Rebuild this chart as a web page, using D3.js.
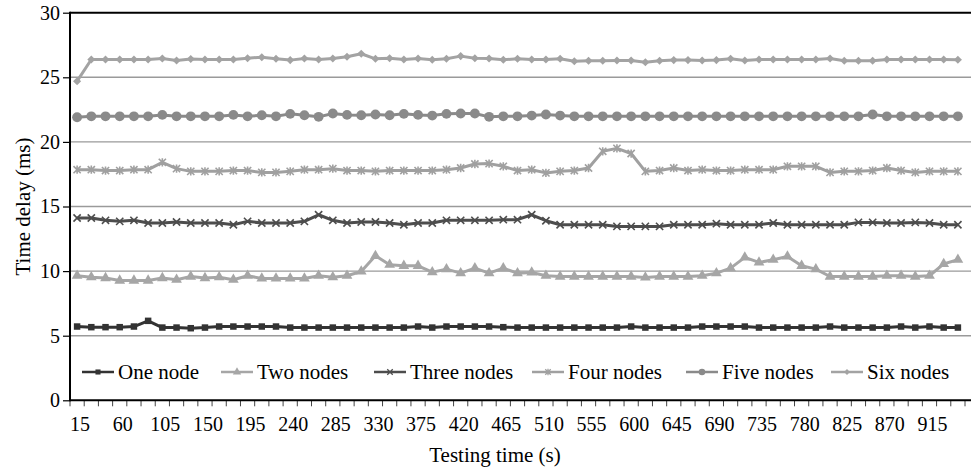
<!DOCTYPE html>
<html>
<head>
<meta charset="utf-8">
<script src="https://cdn.jsdelivr.net/npm/d3@7"></script>
<style>
  body { margin: 0; background: #fff; }
</style>
</head>
<body>
<svg id="delayChart" width="971" height="471"></svg>
<script>
// Testing time categories (s)
var times = [15, 30, 45, 60, 75, 90, 105, 120, 135, 150, 165, 180, 195, 210, 225, 240,
  255, 270, 285, 300, 315, 330, 345, 360, 375, 390, 405, 420, 435, 450, 465, 480,
  495, 510, 525, 540, 555, 570, 585, 600, 615, 630, 645, 660, 675, 690, 705, 720,
  735, 750, 765, 780, 795, 810, 825, 840, 855, 870, 885, 900, 915, 930, 945];
var xTickLabels = [15, 60, 105, 150, 195, 240, 285, 330, 375, 420, 465, 510, 555, 600,
  645, 690, 735, 780, 825, 870, 915];
var yTicks = [0, 5, 10, 15, 20, 25, 30];
var seriesNames = ["One node", "Two nodes", "Three nodes", "Four nodes", "Five nodes", "Six nodes"];

// Time delay (ms)
var oneNode = [5.71, 5.66, 5.66, 5.66, 5.71, 6.15, 5.63, 5.63, 5.58, 5.63,
  5.71, 5.71, 5.71, 5.71, 5.71, 5.63, 5.63, 5.63, 5.63, 5.63,
  5.63, 5.63, 5.63, 5.63, 5.71, 5.63, 5.71, 5.71, 5.71, 5.71,
  5.66, 5.63, 5.63, 5.63, 5.63, 5.63, 5.63, 5.63, 5.63, 5.71,
  5.63, 5.63, 5.63, 5.63, 5.71, 5.71, 5.71, 5.71, 5.63, 5.63,
  5.63, 5.63, 5.63, 5.71, 5.63, 5.63, 5.63, 5.63, 5.71, 5.63,
  5.71, 5.63, 5.63];
var twoNodes = [9.64, 9.53, 9.46, 9.27, 9.27, 9.27, 9.46, 9.33, 9.58, 9.46,
  9.53, 9.33, 9.64, 9.43, 9.43, 9.43, 9.43, 9.64, 9.53, 9.64,
  9.97, 11.18, 10.49, 10.41, 10.41, 9.92, 10.15, 9.84, 10.23, 9.84,
  10.23, 9.84, 9.89, 9.64, 9.58, 9.58, 9.58, 9.58, 9.58, 9.58,
  9.51, 9.58, 9.58, 9.58, 9.64, 9.84, 10.23, 11.06, 10.67, 10.88,
  11.13, 10.41, 10.15, 9.58, 9.58, 9.58, 9.58, 9.64, 9.64, 9.58,
  9.64, 10.56, 10.88];
var threeNodes = [14.11, 14.11, 13.93, 13.85, 13.93, 13.72, 13.72, 13.80, 13.72, 13.72,
  13.72, 13.59, 13.85, 13.72, 13.72, 13.72, 13.85, 14.36, 13.93, 13.72,
  13.80, 13.80, 13.72, 13.59, 13.72, 13.72, 13.93, 13.93, 13.93, 13.93,
  13.98, 13.98, 14.36, 13.90, 13.59, 13.59, 13.59, 13.59, 13.46, 13.46,
  13.46, 13.46, 13.59, 13.59, 13.59, 13.67, 13.59, 13.59, 13.59, 13.72,
  13.59, 13.59, 13.59, 13.59, 13.59, 13.77, 13.77, 13.72, 13.72, 13.77,
  13.72, 13.59, 13.59];
var fourNodes = [17.85, 17.85, 17.78, 17.78, 17.85, 17.85, 18.42, 17.93, 17.72, 17.72,
  17.72, 17.78, 17.78, 17.64, 17.64, 17.72, 17.85, 17.85, 17.93, 17.78,
  17.78, 17.72, 17.78, 17.78, 17.78, 17.78, 17.85, 17.98, 18.29, 18.32,
  18.11, 17.78, 17.85, 17.60, 17.72, 17.78, 17.98, 19.27, 19.50, 19.10,
  17.72, 17.78, 17.98, 17.78, 17.85, 17.78, 17.78, 17.85, 17.85, 17.85,
  18.11, 18.11, 18.11, 17.64, 17.72, 17.72, 17.78, 17.98, 17.78, 17.64,
  17.72, 17.72, 17.72];
var fiveNodes = [21.91, 21.98, 21.98, 21.98, 21.98, 21.98, 22.09, 21.98, 21.98, 21.98,
  21.98, 22.09, 21.98, 22.06, 21.98, 22.17, 22.06, 21.94, 22.20, 22.09,
  22.06, 22.12, 22.06, 22.17, 22.09, 22.04, 22.17, 22.20, 22.20, 21.94,
  21.98, 21.98, 22.04, 22.12, 22.04, 21.98, 21.98, 21.98, 21.98, 21.98,
  21.98, 21.98, 21.98, 21.98, 21.98, 21.98, 21.98, 21.98, 21.98, 21.98,
  21.98, 21.98, 21.98, 21.98, 21.98, 21.98, 22.12, 21.98, 21.98, 21.98,
  21.98, 21.98, 21.98];
var sixNodes = [24.70, 26.38, 26.38, 26.38, 26.38, 26.38, 26.46, 26.30, 26.41, 26.38,
  26.38, 26.38, 26.48, 26.56, 26.43, 26.33, 26.46, 26.38, 26.46, 26.59,
  26.82, 26.43, 26.48, 26.38, 26.46, 26.36, 26.43, 26.64, 26.48, 26.46,
  26.36, 26.43, 26.38, 26.38, 26.43, 26.25, 26.28, 26.28, 26.30, 26.30,
  26.17, 26.28, 26.33, 26.33, 26.30, 26.33, 26.43, 26.30, 26.38, 26.38,
  26.38, 26.38, 26.38, 26.46, 26.28, 26.28, 26.28, 26.38, 26.38, 26.38,
  26.38, 26.38, 26.36];

var svg, xScale, yScale;
var serif = "'Liberation Serif', 'Times New Roman', Times, 'DejaVu Serif', serif";
// where each legend label starts
var legendTextX = [118, 257, 410, 568, 722, 867];

// marker shapes that look like the office ones
var symbolTimes = {
  draw: function (ctx, size) {
    var r = Math.sqrt(size) / 2;
    ctx.moveTo(-r, -r); ctx.lineTo(r, r);
    ctx.moveTo(-r, r); ctx.lineTo(r, -r);
  }
};
var symbolStar = {
  draw: function (ctx, size) {
    var r = Math.sqrt(size) / 2;
    ctx.moveTo(-r, -r); ctx.lineTo(r, r);
    ctx.moveTo(-r, r); ctx.lineTo(r, -r);
    ctx.moveTo(0, -r * 1.15); ctx.lineTo(0, r * 1.15);
  }
};
var symbolRhomb = {
  draw: function (ctx, size) {
    var r = Math.sqrt(size) * 0.62;
    ctx.moveTo(0, -r); ctx.lineTo(r, 0); ctx.lineTo(0, r); ctx.lineTo(-r, 0);
    ctx.closePath();
  }
};

document.addEventListener("DOMContentLoaded", function () {
  svg = d3.select("#delayChart").attr("font-family", serif);
  drawChart();
});

function drawChart() {
  var left = 70, right = 965, gridRight = 971;

  xScale = d3.scaleBand().domain(times).range([left, right]).padding(0);
  yScale = d3.scaleLinear().domain([0, 30]).range([400.3, 12.7]);

  var series = [
    { name: seriesNames[0], values: oneNode, color: "#333333", type: d3.symbolSquare, size: 42, legendSize: 26, fill: true },
    { name: seriesNames[1], values: twoNodes, color: "#a6a6a6", type: d3.symbolTriangle, size: 50, legendSize: 30, fill: true },
    { name: seriesNames[2], values: threeNodes, color: "#4d4d4d", type: symbolTimes, size: 52, legendSize: 30, fill: false },
    { name: seriesNames[3], values: fourNodes, color: "#a0a0a0", type: symbolStar, size: 52, legendSize: 30, fill: false },
    { name: seriesNames[4], values: fiveNodes, color: "#8a8a8a", type: d3.symbolCircle, size: 76, legendSize: 34, fill: true },
    { name: seriesNames[5], values: sixNodes, color: "#a3a3a3", type: symbolRhomb, size: 42, legendSize: 22, fill: true }
  ];

  // gridlines
  svg.append("g").selectAll("line")
    .data(yTicks.filter(d => d > 0 && d < 30)).enter()
    .append("line")
    .attr("x1", left).attr("x2", gridRight)
    .attr("y1", d => yScale(d)).attr("y2", d => yScale(d))
    .attr("stroke", "#9a9a9a")
    .attr("stroke-width", 1.4);

  // top border
  svg.append("line")
    .attr("x1", left).attr("x2", gridRight)
    .attr("y1", yScale(30)).attr("y2", yScale(30))
    .attr("stroke", "#000").attr("stroke-width", 2);

  // y axis
  var yAxis = svg.append("g")
    .attr("transform", "translate(" + left + ",0)")
    .call(d3.axisLeft(yScale).tickValues(yTicks).tickSize(7).tickPadding(3));
  yAxis.select(".domain").remove();
  yAxis.attr("font-family", serif).attr("font-size", 20);
  yAxis.selectAll("line").attr("stroke", "#000").attr("stroke-width", 1.2);
  yAxis.selectAll("text").attr("font-family", serif).attr("fill", "#000");

  // x axis labels
  var xAxis = svg.append("g")
    .attr("transform", "translate(0," + yScale(0) + ")")
    .call(d3.axisBottom(xScale).tickValues(xTickLabels).tickSize(0).tickPadding(17));
  xAxis.select(".domain").remove();
  xAxis.attr("font-family", serif).attr("font-size", 20);
  xAxis.selectAll("text").attr("font-family", serif).attr("fill", "#000").attr("dx", 3);

  // x ticks on the category borders
  var borders = times.map(t => xScale(t)).concat([right]);
  svg.append("g").selectAll("line")
    .data(borders).enter()
    .append("line")
    .attr("x1", d => d).attr("x2", d => d)
    .attr("y1", yScale(0)).attr("y2", yScale(0) + 6)
    .attr("stroke", "#444").attr("stroke-width", 1);

  // axis lines
  svg.append("line")
    .attr("x1", left).attr("x2", gridRight)
    .attr("y1", yScale(0)).attr("y2", yScale(0))
    .attr("stroke", "#000").attr("stroke-width", 2);
  svg.append("line")
    .attr("x1", left).attr("x2", left)
    .attr("y1", yScale(30) - 1).attr("y2", yScale(0) + 1)
    .attr("stroke", "#000").attr("stroke-width", 2);

  // lines + markers
  var half = xScale.bandwidth() / 2;
  var line = d3.line()
    .x((d, i) => xScale(times[i]) + half)
    .y(d => yScale(d));

  series.forEach(function (s) {
    var g = svg.append("g").attr("class", "series");
    g.append("path")
      .attr("d", line(s.values))
      .attr("fill", "none")
      .attr("stroke", s.color)
      .attr("stroke-width", 3)
      .attr("stroke-linejoin", "round");
    g.selectAll("path.mark")
      .data(s.values).enter()
      .append("path")
      .attr("class", "mark")
      .attr("transform", (d, i) => "translate(" + (xScale(times[i]) + half) + "," + yScale(d) + ")")
      .attr("d", d3.symbol().type(s.type).size(s.size))
      .attr("fill", s.fill ? s.color : "none")
      .attr("stroke", s.color)
      .attr("stroke-width", s.fill ? 0 : 1.6);
  });

  // legend
  var ly = 372;
  series.forEach(function (s, i) {
    var tx = legendTextX[i];
    var g = svg.append("g").attr("transform", "translate(" + (tx - 36) + "," + ly + ")");
    g.append("line")
      .attr("x1", 0).attr("x2", 32).attr("y1", 0).attr("y2", 0)
      .attr("stroke", s.color).attr("stroke-width", 2.5);
    g.append("path")
      .attr("transform", "translate(16,0)")
      .attr("d", d3.symbol().type(s.type).size(s.legendSize))
      .attr("fill", s.fill ? s.color : "none")
      .attr("stroke", s.color)
      .attr("stroke-width", s.fill ? 0 : 1.3);
    g.append("text")
      .attr("x", 36).attr("y", 7)
      .attr("font-family", serif)
      .attr("font-size", 21)
      .text(s.name);
  });

  // axis titles
  svg.append("text")
    .attr("x", 495).attr("y", 462)
    .attr("text-anchor", "middle")
    .attr("font-family", serif)
    .attr("font-size", 21)
    .text("Testing time (s)");
  svg.append("text")
    .attr("transform", "translate(30," + ((yScale(0) + yScale(30)) / 2) + ") rotate(-90)")
    .attr("text-anchor", "middle")
    .attr("font-family", serif)
    .attr("font-size", 21)
    .text("Time delay (ms)");
}
</script>
</body>
</html>
